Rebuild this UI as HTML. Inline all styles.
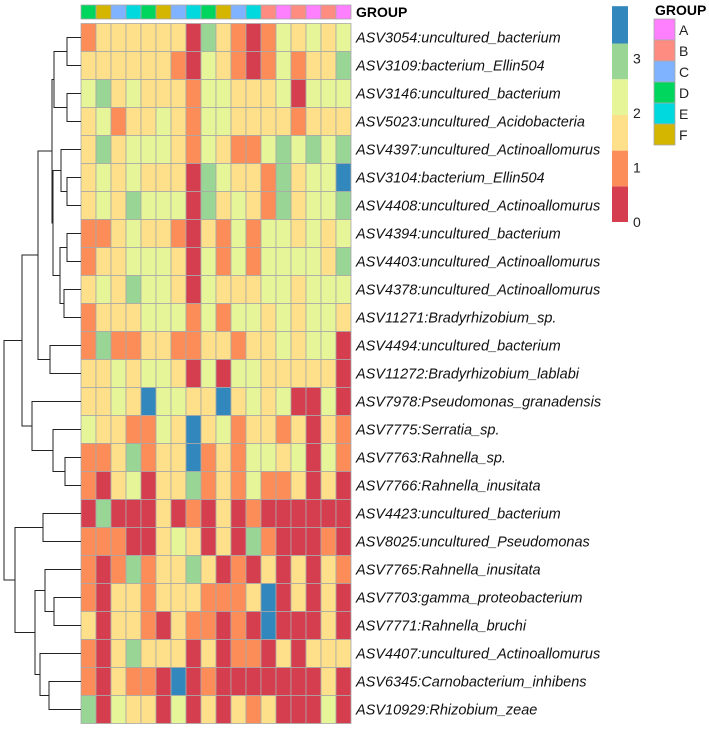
<!DOCTYPE html>
<html><head><meta charset="utf-8"><style>
body{margin:0;background:#fff;width:709px;height:728px;overflow:hidden;font-family:"Liberation Sans",sans-serif;}
svg text{font-family:"Liberation Sans",sans-serif;}
</style></head><body>
<svg id="chart" width="709" height="728"></svg>
<script>
const rowLabels=["ASV3054:uncultured_bacterium","ASV3109:bacterium_Ellin504","ASV3146:uncultured_bacterium","ASV5023:uncultured_Acidobacteria","ASV4397:uncultured_Actinoallomurus","ASV3104:bacterium_Ellin504","ASV4408:uncultured_Actinoallomurus","ASV4394:uncultured_bacterium","ASV4403:uncultured_Actinoallomurus","ASV4378:uncultured_Actinoallomurus","ASV11271:Bradyrhizobium_sp.","ASV4494:uncultured_bacterium","ASV11272:Bradyrhizobium_lablabi","ASV7978:Pseudomonas_granadensis","ASV7775:Serratia_sp.","ASV7763:Rahnella_sp.","ASV7766:Rahnella_inusitata","ASV4423:uncultured_bacterium","ASV8025:uncultured_Pseudomonas","ASV7765:Rahnella_inusitata","ASV7703:gamma_proteobacterium","ASV7771:Rahnella_bruchi","ASV4407:uncultured_Actinoallomurus","ASV6345:Carnobacterium_inhibens","ASV10929:Rhizobium_zeae"];
const columnGroups=["D","F","C","E","D","F","C","E","D","F","C","E","B","A","B","A","B","A"];
const groupNames=["A","B","C","D","E","F"];
const colorTicks=[0,1,2,3];
// values (R~0.3,O~1.0,P~1.6,Y~2.3,G~2.9,B~3.6)
const valueRows=[
"O P P P P P P R G P O R O Y P Y P Y","P P P P P P O R Y P O R O Y O P P G","Y G P Y P P P O Y Y P P P Y R Y Y Y","P Y O P P Y P O Y Y P P P P O P P P","P G P Y Y Y P O Y P O O Y G Y G Y G","P Y P Y P P P R G Y P P O G P Y Y B","P Y P G Y Y Y R G P Y P O G P Y Y G","O O P Y P P O R P O Y O Y Y P Y P Y","O P P Y Y Y P R Y O Y O Y Y Y Y P G","P Y P G Y Y P R Y P P P Y Y P Y Y Y","O P P P Y Y Y O Y O Y Y P Y P Y Y P","O G O O P P O O P P O P P Y P Y Y R","P P Y P Y Y P R Y R Y Y P P P P P R","P P Y P B Y Y P P B P Y P Y R R Y R","Y P P O O Y P B P Y O P P O P R P O","O O P G O P P B O P O Y Y P Y R Y O","O R P Y R P P G O P O Y O O P R P R","R G R R R P R O R P R O R R R R R R","O O O R R P Y P R P R G O R R R O R","O R O G O P P G P R O R P R P R P O","O R P P O P P P O O O P B R P R P R","P R P P O R P O O R O R B R R R P R","O R P G P P P R P R O O R P R P P P","O R P O O R B R O R R R R R R R P R","G R Y P P R Y R P R P O P R R R Y R"];
const codeVal={R:0.3,O:1.0,P:1.6,Y:2.3,G:2.9,B:3.6};
const values=valueRows.map(r=>r.split(" ").map(c=>codeVal[c]));

const NS="http://www.w3.org/2000/svg";
const svg=document.getElementById("chart");
function mk(tag,attrs,parent){const e=document.createElementNS(NS,tag);for(const k in attrs)e.setAttribute(k,attrs[k]);(parent||svg).appendChild(e);return e;}
const groupColor={A:"#ff80ff",B:"#ff8c80",C:"#80b3ff",D:"#00d65e",E:"#00dade",F:"#d4b600"};
const bins=[[0.655,"#d53e4f"],[1.31,"#fc8d59"],[1.965,"#fee08b"],[2.62,"#e6f598"],[3.275,"#99d594"],[99,"#3288bd"]];
function colorOf(v){for(const b of bins)if(v<b[0])return b[1];}
const x0=81,cw=15,y0=23.5,rh=28;
const xCol=i=>x0+i*cw, yRow=i=>y0+i*rh;
const legY=v=>222-v*54.5;

columnGroups.forEach((g,i)=>{
 const r=mk("rect",{x:xCol(i),y:5,width:cw,height:14,fill:groupColor[g],stroke:"#a8a8a8","stroke-width":0.8});
 
 
});
const gt=mk("text",{x:356,y:17,"font-size":14,"font-weight":"bold",fill:"#000"});gt.textContent="GROUP";



values.forEach((row,r)=>row.forEach((v,c)=>{
 const e=mk("rect",{x:xCol(c),y:yRow(r),width:cw,height:rh,fill:colorOf(v),stroke:"#a8a8a8","stroke-width":0.8});
 
 
}));
rowLabels.forEach((l,r)=>{
 const t=mk("text",{x:356,y:yRow(r)+rh/2+5,"font-size":14.5,"font-style":"italic",fill:"#111"});
 t.textContent=l;
 
 
});
const dg=mk("g",{stroke:"#222","stroke-width":1,fill:"none"});


const L=i=>37.5+28*i;
function link(x,ya,xa,yb,xb){mk("path",{d:`M${xa} ${ya}H${x}V${yb}H${xb}`},dg);}
link(67,L(0),81,L(1),81);
link(67,L(2),81,L(3),81);
link(54,51.5,67,107.5,67);
link(67,L(5),81,L(6),81);
link(61,L(4),81,191.5,67);
link(67,L(7),81,L(8),81);
link(64,L(9),81,L(10),81);
link(60,247.5,67,303.5,64);
link(53,170.5,61,275.5,60);
link(52,79.5,54,223,53);
link(50,L(11),81,L(12),81);
link(38,151,52,359.5,50);
link(65,L(15),81,L(16),81);
link(53,L(14),81,471.5,65);
link(32,L(13),81,450.5,53);
link(22,255,38,426,32);
link(43,L(17),81,L(18),81);
link(54,L(20),81,L(21),81);
link(45,L(19),81,611.5,54);
link(49,L(23),81,L(24),81);
link(40,L(22),81,695.5,49);
link(35,590.5,45,674.5,40);
link(15,527.5,43,632.5,35);
link(4,340.5,22,580,15);

for(let k=0;k<bins.length;k++){
 const lo=k===0?0:bins[k-1][0], hi=k===bins.length-1?3.96:bins[k][0];
 const e=mk("rect",{x:612,y:legY(hi),width:16,height:legY(lo)-legY(hi),fill:bins[k][1]});
 
 
}
colorTicks.forEach(v=>{
 const t=mk("text",{x:633,y:legY(v)+5,"font-size":14,fill:"#222"});t.textContent=v;
 
 
});
const lt=mk("text",{x:655,y:15,"font-size":14,"font-weight":"bold",fill:"#000"});lt.textContent="GROUP";


groupNames.forEach((g,i)=>{
 const y=19+i*21;
 const r=mk("rect",{x:654,y:y,width:21,height:21,fill:groupColor[g],stroke:"#a8a8a8","stroke-width":0.8});
 
 
 const t=mk("text",{x:679,y:y+16,"font-size":14,fill:"#222"});t.textContent=g;
 
 
});
</script>
</body></html>
